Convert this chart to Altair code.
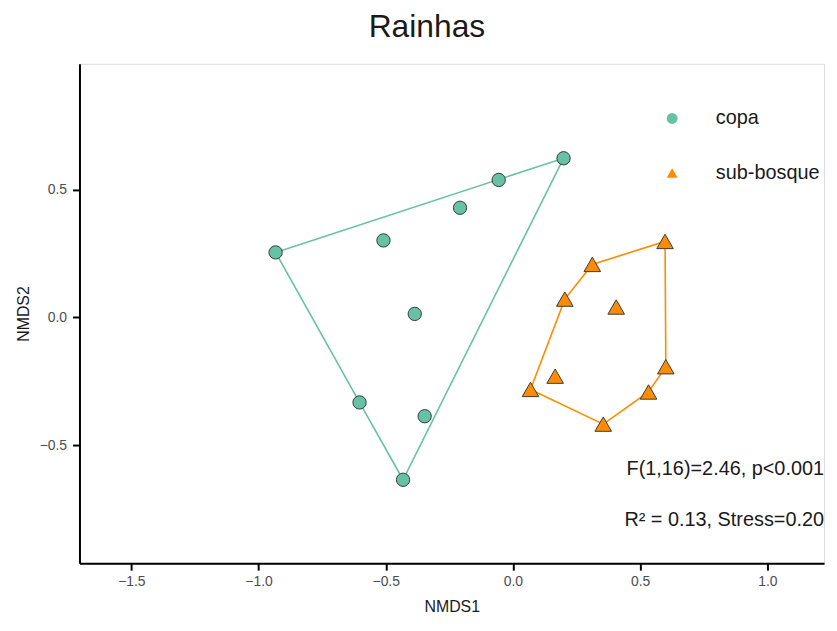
import altair as alt
import pandas as pd

groups = ["copa", "sub-bosque"]
colors = ["#66c2a5", "#ff8c00"]
point_sizes = [180, 280]

copa_x = [0.199, -0.056, -0.208, -0.509, -0.933, -0.386, -0.603, -0.347, -0.432]
copa_y = [0.624, 0.539, 0.430, 0.302, 0.255, 0.014, -0.333, -0.387, -0.636]
sub_x = [0.598, 0.312, 0.204, 0.406, 0.601, 0.166, 0.533, 0.069, 0.355]
sub_y = [0.298, 0.208, 0.072, 0.041, -0.193, -0.230, -0.292, -0.282, -0.418]

x_ticks = [-1.5, -1.0, -0.5, 0.0, 0.5, 1.0]
y_ticks = [-0.5, 0.0, 0.5]
stats_lines = ["F(1,16)=2.46, p<0.001", "R\u00b2 = 0.13, Stress=0.20"]

pts = pd.DataFrame({
    "NMDS1": copa_x + sub_x,
    "NMDS2": copa_y + sub_y,
    "grupo": ["copa"] * len(copa_x) + ["sub-bosque"] * len(sub_x),
})


def hull(points):
    p = sorted(set(points))
    if len(p) <= 2:
        return p
    def cross(o, a, b):
        return (a[0] - o[0]) * (b[1] - o[1]) - (a[1] - o[1]) * (b[0] - o[0])
    lower, upper = [], []
    for q in p:
        while len(lower) >= 2 and cross(lower[-2], lower[-1], q) <= 0:
            lower.pop()
        lower.append(q)
    for q in reversed(p):
        while len(upper) >= 2 and cross(upper[-2], upper[-1], q) <= 0:
            upper.pop()
        upper.append(q)
    return lower[:-1] + upper[:-1]


rows = []
for g in groups:
    sub = pts[pts.grupo == g]
    h = hull(list(zip(sub.NMDS1, sub.NMDS2)))
    h = h + [h[0]]
    for i, (a, b) in enumerate(h):
        rows.append({"NMDS1": a, "NMDS2": b, "grupo": g, "ord": i})
hull_df = pd.DataFrame(rows)

xs = alt.Scale(domain=[-1.704, 1.223], nice=False, zero=False)
ys = alt.Scale(domain=[-0.963, 0.994], nice=False, zero=False)
cs = alt.Scale(domain=groups, range=colors)
ss = alt.Scale(domain=groups, range=["circle", "triangle-up"])

common_axis = dict(grid=False, format=".1f", labelFontSize=14,
                   labelColor="#4d4d4d", titleFontSize=16,
                   titleFontWeight="normal", titleColor="#1a1a1a",
                   domainColor="black", domainWidth=2, tickColor="black",
                   tickWidth=2, tickSize=7, labelFont="Liberation Sans",
                   titleFont="Liberation Sans")
x_axis = alt.Axis(values=x_ticks, title="NMDS1", titlePadding=11,
                  labelPadding=4, **common_axis)
y_axis = alt.Axis(values=y_ticks, title="NMDS2", titlePadding=8,
                  labelPadding=6, **common_axis)

legend = alt.Legend(title=None, orient="none", legendX=587, legendY=45,
                    labelFontSize=20, labelFont="Liberation Sans",
                    labelColor="#1a1a1a", symbolSize=120, symbolStrokeWidth=0,
                    labelOffset=34, rowPadding=35, padding=0)

layers = []
for g, c in zip(groups, colors):
    layers.append(
        alt.Chart(hull_df).transform_filter(alt.datum.grupo == g)
        .mark_line(strokeWidth=1.6, color=c).encode(
            x=alt.X("NMDS1:Q", scale=xs, axis=x_axis),
            y=alt.Y("NMDS2:Q", scale=ys, axis=y_axis),
            order="ord:Q",
        )
    )
for g, sz in zip(groups, point_sizes):
    layers.append(
        alt.Chart(pts).transform_filter(alt.datum.grupo == g)
        .mark_point(filled=True, stroke="#3a3a3a", strokeWidth=1, opacity=1,
                    size=sz).encode(
            x=alt.X("NMDS1:Q", scale=xs),
            y=alt.Y("NMDS2:Q", scale=ys),
            color=alt.Color("grupo:N", scale=cs, legend=legend),
            shape=alt.Shape("grupo:N", scale=ss, legend=legend),
        )
    )

text_y = [408, 460]
for t, yy in zip(stats_lines, text_y):
    layers.append(
        alt.Chart(pd.DataFrame({"txt": [t]})).mark_text(
            align="right", baseline="middle", fontSize=20, color="#1a1a1a",
            font="Liberation Sans").encode(
            x=alt.value(750), y=alt.value(yy), text="txt:N")
    )

chart = alt.layer(*layers).properties(
    width=750, height=503,
    title=alt.TitleParams("Rainhas", fontSize=32, fontWeight="normal",
                          font="Liberation Sans", anchor="middle", dx=-25,
                          offset=20, color="#1a1a1a"),
    autosize=alt.AutoSizeParams(type="none"),
    padding={"left": 72, "top": 54, "right": 5, "bottom": 60},
).configure_view(strokeWidth=0).configure(font="Liberation Sans")

chart.save("out.html", embed_options={"renderer": "svg", "actions": False})
